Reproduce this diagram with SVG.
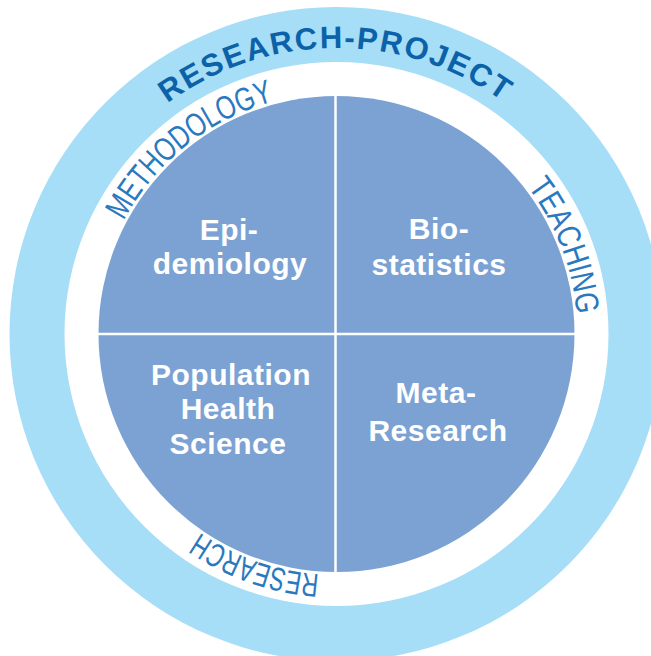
<svg xmlns="http://www.w3.org/2000/svg" xmlns:xlink="http://www.w3.org/1999/xlink" width="651" height="656" viewBox="0 0 651 656">
  <defs>
    <style>
      .outer { fill: #a6ddf7; }
      .gap { fill: #ffffff; }
      .core { fill: #7ba2d3; }
      .divider { stroke: #ffffff; stroke-width: 2.5; fill: none; }
      .q { font-family: "Liberation Sans", Arial, sans-serif; font-weight: bold; font-size: 30px; fill: #ffffff; text-anchor: middle; letter-spacing: 0.5px; }
      .ring { font-family: "Liberation Sans", Arial, sans-serif; font-weight: normal; font-size: 33px; fill: #2a79be; }
      .title { font-family: "Liberation Sans", Arial, sans-serif; font-weight: bold; font-size: 31px; fill: #0b62a8; letter-spacing: 1.8px; text-anchor: middle; }
    </style>
    <path id="ringPath" d="M 95.5,334 A 241 241 0 1 1 577.5,334 A 241 241 0 1 1 95.5,334"/>
    <path id="titlePath" d="M 50.5,334 A 286 286 0 0 1 622.5,334"/>
  </defs>

  <g id="background">
    <circle class="outer" cx="336.5" cy="334" r="327"/>
    <circle class="gap" cx="336.5" cy="334" r="272"/>
    <circle class="core" cx="336.5" cy="334" r="238"/>
  </g>

  <g id="connectors">
    <line class="divider" x1="335.5" y1="95" x2="335.5" y2="573"/>
    <line class="divider" x1="97" y1="334" x2="576" y2="334"/>
  </g>

  <g id="title">
    <text class="title"><textPath href="#titlePath" xlink:href="#titlePath" startOffset="448">RESEARCH-PROJECT</textPath></text>
  </g>

  <g id="methodology">
    <text class="ring"><textPath href="#ringPath" xlink:href="#ringPath" startOffset="117.8" textLength="197" lengthAdjust="spacingAndGlyphs">METHODOLOGY</textPath></text>
  </g>
  <g id="teaching">
    <text class="ring"><textPath href="#ringPath" xlink:href="#ringPath" startOffset="599" textLength="138" lengthAdjust="spacingAndGlyphs">TEACHING</textPath></text>
  </g>
  <g id="research">
    <text class="ring"><textPath href="#ringPath" xlink:href="#ringPath" startOffset="1152.5" textLength="128" lengthAdjust="spacingAndGlyphs">RESEARCH</textPath></text>
  </g>

  <g id="epidemiology">
    <text class="q" x="229" y="240">Epi-</text>
    <text class="q" x="230" y="274">demiology</text>
  </g>
  <g id="biostatistics">
    <text class="q" x="439" y="239">Bio-</text>
    <text class="q" x="439" y="275">statistics</text>
  </g>
  <g id="population-health-science">
    <text class="q" x="231" y="385">Population</text>
    <text class="q" x="228" y="419">Health</text>
    <text class="q" x="228" y="454">Science</text>
  </g>
  <g id="meta-research">
    <text class="q" x="436" y="403">Meta-</text>
    <text class="q" x="438" y="441">Research</text>
  </g>
</svg>
